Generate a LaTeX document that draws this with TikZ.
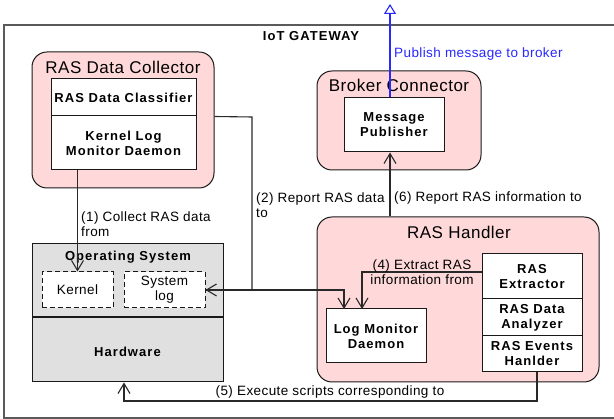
\documentclass[tikz,border=0pt]{standalone}
\usepackage{fontspec}
\setmainfont{Liberation Sans}
\newfontfamily\lblfont{Liberation Sans}[LetterSpace=3]
\newfontfamily\hdrfont{Liberation Sans}[LetterSpace=8]
\usetikzlibrary{arrows.meta,calc}
\definecolor{grouppink}{RGB}{255,217,217}
\definecolor{layergray}{RGB}{224,224,224}
\definecolor{edgegray}{RGB}{25,25,25}
\definecolor{linegray}{RGB}{40,40,40}
\definecolor{framegray}{RGB}{90,90,90}
\definecolor{pubblue}{RGB}{40,40,255}
\begin{document}
\begin{tikzpicture}[x=1pt,y=-1pt,
  group/.style={draw=edgegray,line width=1pt,fill=grouppink,rounded corners=15pt,inner sep=0pt},
  grouptitle/.style={font=\lblfont\fontsize{17}{20}\selectfont,inner sep=0pt},
  part/.style={draw=edgegray,line width=1pt,fill=white,inner sep=0pt,align=center,
    font=\hdrfont\bfseries\fontsize{13}{15}\selectfont},
  layer/.style={draw=edgegray,line width=1pt,fill=layergray,inner sep=0pt},
  slot/.style={draw=edgegray,dash pattern=on 5pt off 3pt,line width=1pt,fill=white,
    inner sep=0pt,align=center,font=\lblfont\fontsize{13.5}{15}\selectfont},
  boldlabel/.style={font=\hdrfont\bfseries\fontsize{13}{15}\selectfont,inner sep=0pt},
  flowlabel/.style={font=\lblfont\fontsize{13.5}{15}\selectfont,inner sep=0pt,align=left},
  flow/.style={draw=linegray,line width=1.1pt,-{Straight Barb[length=10pt,width=12pt]}},
  publish/.style={draw=pubblue,line width=1.1pt,-{Triangle[open,length=10pt,width=12pt,fill=white]}},
  frame/.style={draw=framegray,line width=1.6pt}
]
\useasboundingbox (0,0) rectangle (614,419);

% gateway frame (open to the right)
\draw[frame] (620,25) -- (4,25) -- (4,418) -- (620,418);
\node[boldlabel] (gw) at (311,36) {IoT GATEWAY};

% RAS Data Collector
\node[group,minimum width=182pt,minimum height=136pt] (rdc) at (123,120) {};
\node[grouptitle] (rdct) at (123,67) {RAS Data Collector};
\node[part,minimum width=145pt,minimum height=37pt] (cls) at (123.5,97.5) {RAS Data Classifier};
\node[part,minimum width=145pt,minimum height=54pt] (klm) at (123.5,143) {Kernel Log\\Monitor Daemon};

% Broker Connector
\node[group,minimum width=164pt,minimum height=99pt] (bc) at (399,120.5) {};
\node[grouptitle] (bct) at (399,85) {Broker Connector};
\node[part,minimum width=100pt,minimum height=54pt] (mp) at (394,125) {Message\\Publisher};

% RAS Handler
\node[group,minimum width=282pt,minimum height=165pt] (rh) at (458,299.5) {};
\node[grouptitle] (rht) at (459,232) {RAS Handler};
\node[part,minimum width=100pt,minimum height=45pt] (rex) at (532,276.5) {RAS\\Extractor};
\node[part,minimum width=100pt,minimum height=37pt] (rda) at (532,317.5) {RAS Data\\Analyzer};
\node[part,minimum width=100pt,minimum height=36pt] (reh) at (532,354) {RAS Events\\Hanlder};
\node[part,minimum width=100pt,minimum height=54pt] (lmd) at (376,336) {Log Monitor\\Daemon};

% Operating system and hardware layers
\node[layer,minimum width=191pt,minimum height=73pt] (os) at (127.5,280.5) {};
\node[boldlabel] (ost) at (128,257) {Operating System};
\node[slot,minimum width=71pt,minimum height=36pt] (ker) at (77.5,290) {Kernel};
\node[slot,minimum width=81pt,minimum height=36pt] (slog) at (164.5,290) {System\\log};
\node[layer,minimum width=191pt,minimum height=65pt] (hw) at (127.5,349.5) {};
\node[boldlabel] (hwt) at (127.5,352) {Hardware};
\draw[draw=edgegray,line width=1.8pt] (os.south west) -- (os.south east);

% routing points
\coordinate (pub) at (390,4);
\coordinate (c2) at (252,117);
\coordinate (c3) at (344,309);
\coordinate (c4) at (362,309);
\coordinate (c5a) at (537,401);
\coordinate (c5b) at (124,401);

% (1) collect
\draw[flow] (klm.south -| ker.north) -- (ker.north);
\node[flowlabel,anchor=west] (l1) at (81,224.5) {(1) Collect RAS data\\from};

% (2) report to system log
\draw[flow] (cls.south -| rdc.east) -- (c2) |- (slog.east);
\node[flowlabel,anchor=west] (l2) at (256,205.5) {(2) Report RAS data\\to};

% system log to log monitor daemon
\draw[flow] (slog.east) -| (c3);

% (4) extract
\draw[flow] ($(rex.west)+(0,-4.5)$) -| (c4);
\node[flowlabel,align=center] (l4) at (422,272) {(4) Extract RAS\\information from};

% (5) execute scripts
\draw[flow] (reh.south -| c5a) -- (c5a) -- (c5b) -- (hw.south -| c5b);
\node[flowlabel] (l5) at (330,392) {(5) Execute scripts corresponding to};

% (6) report to broker connector
\draw[flow] (rh.north -| pub) -- (mp.south -| pub);
\node[flowlabel,anchor=west] (l6) at (394,198) {(6) Report RAS information to};

% publish
\draw[publish] (mp.north -| pub) -- (pub);
\node[flowlabel,anchor=west,text=pubblue] (lp) at (394,54) {Publish message to broker};
\end{tikzpicture}
\end{document}
